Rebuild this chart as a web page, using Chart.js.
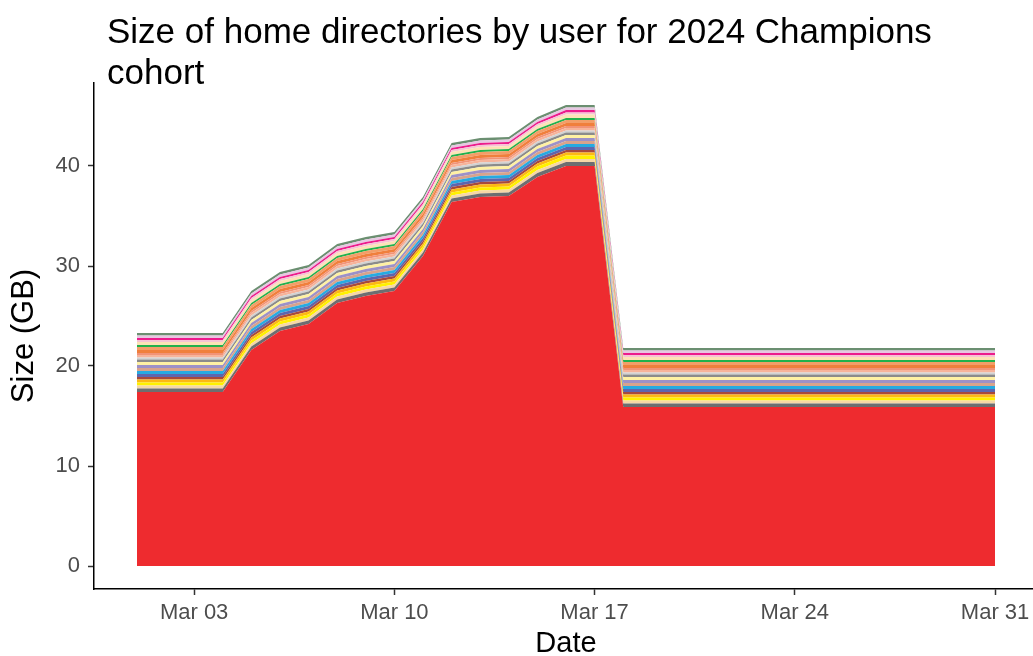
<!DOCTYPE html>
<html>
<head>
<meta charset="utf-8">
<script src="https://cdn.jsdelivr.net/npm/chart.js@4/dist/chart.umd.min.js"></script>
<style>
    html, body { margin: 0; padding: 0; background: #fff; overflow: hidden; }
    #wrap { width: 1033px; height: 656px; overflow: hidden; position: relative; }
    #box { width: 1040px; height: 656px; }
</style>
</head>
<body>
<div id="wrap"><div id="box"><canvas id="homeDirs"></canvas></div></div>
<script>
// day of March for every sample
let days = [1, 4, 5, 6, 7, 8, 9, 10, 11, 12, 13, 14, 15, 16, 17, 18, 31];
let xTicks = [3, 10, 17, 24, 31];
let yTicks = [0, 10, 20, 30, 40];

// stacked bottom to top, sizes in GB
let user01 = [17.4, 17.4, 21.6, 23.5, 24.2, 26.3, 27.0, 27.5, 31.0, 36.4, 36.9, 37.0, 38.9, 40.0, 40.0, 15.9, 15.9];
let user02 = [0.35, 0.35, 0.35, 0.35, 0.35, 0.35, 0.35, 0.35, 0.35, 0.35, 0.35, 0.35, 0.40, 0.40, 0.40, 0.35, 0.35];
let user03 = [0.30, 0.30, 0.30, 0.30, 0.30, 0.30, 0.30, 0.30, 0.30, 0.30, 0.30, 0.30, 0.30, 0.30, 0.30, 0.30, 0.30];
let user04 = [0.30, 0.30, 0.30, 0.30, 0.30, 0.30, 0.30, 0.30, 0.30, 0.30, 0.30, 0.30, 0.35, 0.35, 0.35, 0.30, 0.30];
let user05 = [0.30, 0.30, 0.30, 0.30, 0.30, 0.30, 0.30, 0.30, 0.30, 0.30, 0.30, 0.30, 0.30, 0.30, 0.30, 0.30, 0.30];
let user06 = [0.25, 0.25, 0.25, 0.25, 0.25, 0.25, 0.25, 0.25, 0.25, 0.25, 0.25, 0.25, 0.25, 0.25, 0.25, 0.25, 0.25];
let user07 = [0.30, 0.30, 0.30, 0.30, 0.30, 0.30, 0.30, 0.30, 0.30, 0.30, 0.30, 0.30, 0.30, 0.30, 0.30, 0.30, 0.30];
let user08 = [0.30, 0.30, 0.30, 0.30, 0.30, 0.30, 0.30, 0.30, 0.30, 0.30, 0.30, 0.30, 0.30, 0.30, 0.30, 0.30, 0.30];
let user09 = [0.30, 0.30, 0.30, 0.30, 0.30, 0.30, 0.30, 0.30, 0.30, 0.30, 0.30, 0.30, 0.30, 0.30, 0.30, 0.30, 0.30];
let user10 = [0.30, 0.30, 0.30, 0.30, 0.30, 0.30, 0.30, 0.30, 0.30, 0.30, 0.30, 0.30, 0.30, 0.30, 0.30, 0.30, 0.30];
let user11 = [0.30, 0.30, 0.30, 0.30, 0.30, 0.30, 0.30, 0.30, 0.30, 0.30, 0.30, 0.30, 0.30, 0.30, 0.30, 0.30, 0.30];
let user12 = [0.25, 0.25, 0.25, 0.25, 0.25, 0.25, 0.25, 0.25, 0.25, 0.25, 0.25, 0.25, 0.25, 0.25, 0.25, 0.25, 0.25];
let user13 = [0.20, 0.20, 0.20, 0.20, 0.20, 0.20, 0.20, 0.20, 0.20, 0.20, 0.20, 0.20, 0.20, 0.20, 0.20, 0.20, 0.20];
let user14 = [0.25, 0.25, 0.25, 0.25, 0.25, 0.25, 0.25, 0.25, 0.25, 0.25, 0.25, 0.25, 0.25, 0.25, 0.25, 0.25, 0.25];
let user15 = [0.20, 0.20, 0.20, 0.20, 0.20, 0.20, 0.20, 0.20, 0.20, 0.20, 0.20, 0.20, 0.20, 0.20, 0.20, 0.20, 0.20];
let user16 = [0.30, 0.30, 0.30, 0.30, 0.30, 0.30, 0.30, 0.30, 0.30, 0.30, 0.30, 0.30, 0.30, 0.30, 0.30, 0.30, 0.30];
let user17 = [0.30, 0.30, 0.30, 0.30, 0.30, 0.30, 0.30, 0.30, 0.30, 0.30, 0.30, 0.30, 0.30, 0.30, 0.30, 0.30, 0.30];
let user18 = [0.20, 0.20, 0.20, 0.20, 0.20, 0.20, 0.20, 0.20, 0.20, 0.20, 0.20, 0.20, 0.20, 0.20, 0.20, 0.20, 0.20];
let user19 = [0.30, 0.30, 0.30, 0.30, 0.30, 0.30, 0.30, 0.30, 0.30, 0.30, 0.30, 0.30, 0.30, 0.35, 0.35, 0.30, 0.30];
let user20 = [0.20, 0.20, 0.20, 0.20, 0.20, 0.20, 0.20, 0.20, 0.20, 0.20, 0.20, 0.20, 0.20, 0.20, 0.20, 0.20, 0.20];
let user21 = [0.20, 0.20, 0.20, 0.20, 0.20, 0.20, 0.20, 0.20, 0.20, 0.20, 0.20, 0.20, 0.20, 0.25, 0.25, 0.20, 0.20];
let user22 = [0.25, 0.25, 0.25, 0.25, 0.25, 0.25, 0.25, 0.25, 0.25, 0.25, 0.25, 0.25, 0.25, 0.25, 0.25, 0.25, 0.25];
let user23 = [0.25, 0.25, 0.25, 0.25, 0.25, 0.25, 0.25, 0.25, 0.25, 0.25, 0.25, 0.25, 0.25, 0.25, 0.25, 0.25, 0.25];

let users = [user01, user02, user03, user04, user05, user06, user07, user08, user09, user10, user11, user12,
             user13, user14, user15, user16, user17, user18, user19, user20, user21, user22, user23];
let colors = ['#EE2B2F', '#6D6E70', '#F6D7A6', '#FFF100', '#FDB913', '#A8493C', '#5D66AE', '#27AAE1',
              '#D8A38C', '#9D91C7', '#FFF1A3', '#8B8B8B', '#D2D2D2', '#F7B39A', '#F29377', '#F07F3C',
              '#F39E68', '#22B14C', '#FCE3B6', '#F7C3D4', '#EC1C8C', '#E7C7E2', '#6B8F71'];

const FONT = "'Liberation Sans', Arial, Helvetica, sans-serif";

// title drawn left aligned like ggplot
const titlePlugin = {
    id: 'plotTitle',
    afterDraw(chart) {
        let ctx = chart.ctx;
        ctx.save();
        ctx.fillStyle = '#000';
        ctx.font = '35px ' + FONT;
        ctx.textBaseline = 'alphabetic';
        ctx.fillText('Size of home directories by user for 2024 Champions', 107, 43);
        ctx.fillText('cohort', 107, 84);
        ctx.restore();
    }
};

function main() {
    let datasets = users.map((vals, i) => ({
        label: 'user' + (i + 1),
        data: vals.map((v, j) => ({ x: days[j], y: v })),
        backgroundColor: colors[i],
        borderColor: colors[i],
        borderWidth: 0,
        pointRadius: 0,
        fill: i === 0 ? 'origin' : '-1',
        tension: 0
    }));

    new Chart(document.getElementById('homeDirs'), {
        type: 'line',
        data: { datasets: datasets },
        plugins: [titlePlugin],
        options: {
            responsive: true,
            maintainAspectRatio: false,
            animation: false,
            layout: { padding: { top: 83, right: 2, left: 0, bottom: 0 } },
            plugins: {
                legend: { display: false },
                tooltip: { enabled: false },
                title: { display: false }
            },
            scales: {
                x: {
                    type: 'linear',
                    min: -0.5,
                    max: 32.5,
                    afterBuildTicks: (scale) => { scale.ticks = xTicks.map(v => ({ value: v })); },
                    afterFit: (scale) => { scale.height = 67; },
                    ticks: {
                        color: '#4D4D4D',
                        font: { family: FONT, size: 22 },
                        padding: 5,
                        maxRotation: 0,
                        callback: (v) => 'Mar ' + String(v).padStart(2, '0')
                    },
                    grid: { drawOnChartArea: false, drawTicks: true, tickLength: 6, tickColor: '#333', tickWidth: 1.5 },
                    border: { display: true, color: '#000', width: 1.5 },
                    title: { display: true, text: 'Date', color: '#000', font: { family: FONT, size: 29, lineHeight: 0.8 }, padding: { top: 0, bottom: 0 } }
                },
                y: {
                    stacked: true,
                    min: -2.3,
                    max: 48.3,
                    afterBuildTicks: (scale) => { scale.ticks = yTicks.map(v => ({ value: v })); },
                    afterFit: (scale) => { scale.width = 94; },
                    ticks: {
                        color: '#4D4D4D',
                        font: { family: FONT, size: 22 },
                        padding: 8
                    },
                    grid: { drawOnChartArea: false, drawTicks: true, tickLength: 6, tickColor: '#333', tickWidth: 1.5 },
                    border: { display: true, color: '#000', width: 1.5 },
                    title: { display: true, text: 'Size (GB)', color: '#000', font: { family: FONT, size: 31 }, padding: { top: 6, bottom: 0 } }
                }
            }
        }
    });
}

main();
</script>
</body>
</html>
